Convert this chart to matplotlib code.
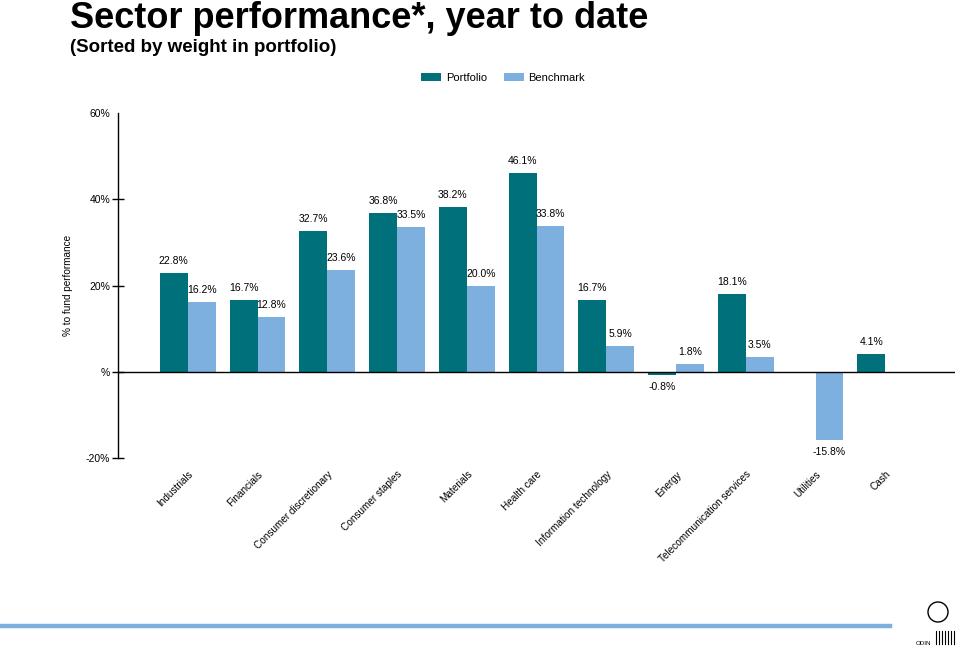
import numpy as np
import matplotlib
matplotlib.use('Agg')
import matplotlib.pyplot as plt
from matplotlib.lines import Line2D
from matplotlib.patches import Circle

plt.rcParams['font.family'] = ['Liberation Sans', 'DejaVu Sans']

sectors = ['Industrials', 'Financials', 'Consumer discretionary', 'Consumer staples',
           'Materials', 'Health care', 'Information technology', 'Energy',
           'Telecommunication services', 'Utilities', 'Cash']
portfolio = [22.8, 16.7, 32.7, 36.8, 38.2, 46.1, 16.7, -0.8, 18.1, np.nan, 4.1]
benchmark = [16.2, 12.8, 23.6, 33.5, 20.0, 33.8, 5.9, 1.8, 3.5, -15.8, np.nan]
yticks = [-20, 0, 20, 40, 60]
ytick_labels = ['-20%', '%', '20%', '40%', '60%']

teal = '#00717A'
light = '#7DB0DE'

fig = plt.figure(figsize=(9.6, 6.46), dpi=100)
ax = fig.add_axes([118/960, 1-458/646, (955-118)/960, (458-113)/646])

x = np.arange(len(sectors))
w = 0.4
b1 = ax.bar(x - w/2, portfolio, w, color=teal, label='Portfolio')
b2 = ax.bar(x + w/2, benchmark, w, color=light, label='Benchmark')

for bars, vals in ((b1, portfolio), (b2, benchmark)):
    for rect, v in zip(bars, vals):
        if np.isnan(v):
            continue
        cx = rect.get_x() + rect.get_width()/2
        if v >= 0:
            ax.annotate(f'{v:.1f}%', (cx, v), xytext=(0, 5), textcoords='offset points',
                        ha='center', va='bottom', fontsize=7.5)
        else:
            ax.annotate(f'{v:.1f}%', (cx, v), xytext=(0, -5), textcoords='offset points',
                        ha='center', va='top', fontsize=7.5)

ax.set_xlim(-1, len(sectors))
ax.set_ylim(-20, 60)
ax.axhline(0, color='black', lw=1)
for s in ('top', 'right', 'bottom'):
    ax.spines[s].set_visible(False)
ax.spines['left'].set_linewidth(1)
ax.set_yticks(yticks)
ax.set_yticklabels(ytick_labels, fontsize=7.5)
ax.tick_params(axis='y', direction='inout', length=8, width=1, pad=1.5)
ax.yaxis.get_major_ticks()[-1].tick1line.set_visible(False)
ax.set_xticks(x)
ax.set_xticklabels(sectors, rotation=45, ha='right', va='top', rotation_mode='anchor', fontsize=7.2)
ax.tick_params(axis='x', length=0, pad=8)
ax.set_ylabel('% to fund performance', fontsize=7.2)
ax.yaxis.set_label_coords(-0.054, 0.5)

fig.text(70/960, 1-28.5/646, 'Sector performance*, year to date', fontsize=26, fontweight='bold',
         va='baseline')
fig.text(70/960, 1-52.5/646, '(Sorted by weight in portfolio)', fontsize=13.5, fontweight='bold',
         va='baseline')

fig.legend(handles=[b1, b2], labels=['Portfolio', 'Benchmark'], loc='center',
           bbox_to_anchor=(503/960, 1-78/646), ncol=2, frameon=False, fontsize=8,
           handlelength=1.8, handleheight=0.7, columnspacing=1.5, handletextpad=0.4)

# decorative footer line and logo
fig.add_artist(Line2D([0, 890/960], [1-626/646, 1-626/646], color=light, lw=3.2,
                      transform=fig.transFigure))
fig.add_artist(Circle((9.38, 0.34), 0.1, transform=fig.dpi_scale_trans,
                      fill=False, color='black', lw=1))
for i in range(7):
    xi = (936 + i*3)/960
    fig.add_artist(Line2D([xi, xi], [1-644/646, 1-631/646], color='black', lw=0.8,
                          transform=fig.transFigure))
fig.text(916/960, 1-645/646, 'ODIN', fontsize=4.5)

fig.savefig('out.png', dpi=100)
